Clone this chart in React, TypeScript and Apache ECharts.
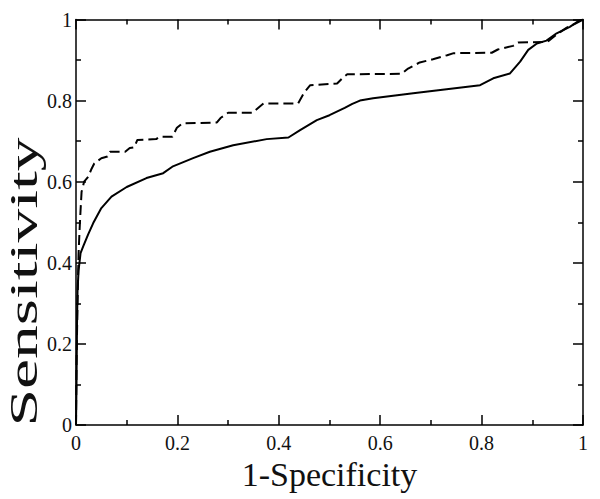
import React, { useEffect, useRef } from "react";
import * as echarts from "echarts";

const solidFpr = [0, 0.001, 0.002, 0.003, 0.005, 0.009, 0.014, 0.024, 0.034, 0.05, 0.07, 0.1, 0.139, 0.172, 0.19, 0.231, 0.264, 0.31, 0.376, 0.419, 0.442, 0.475, 0.5, 0.53, 0.545, 0.56, 0.586, 0.665, 0.731, 0.797, 0.823, 0.856, 0.876, 0.892, 0.909, 0.928, 0.948, 0.974, 0.991, 1];
const solidTpr = [0, 0.1, 0.25, 0.33, 0.38, 0.424, 0.44, 0.47, 0.498, 0.535, 0.563, 0.587, 0.609, 0.621, 0.637, 0.658, 0.674, 0.69, 0.705, 0.709, 0.727, 0.752, 0.764, 0.782, 0.792, 0.8, 0.806, 0.818, 0.828, 0.838, 0.855, 0.867, 0.896, 0.925, 0.941, 0.948, 0.966, 0.982, 0.996, 1];

const dashedFpr = [0, 0.001, 0.003, 0.005, 0.007, 0.009, 0.011, 0.016, 0.024, 0.03, 0.036, 0.05, 0.062, 0.067, 0.097, 0.106, 0.115, 0.121, 0.158, 0.165, 0.19, 0.199, 0.21, 0.278, 0.285, 0.3, 0.348, 0.362, 0.37, 0.438, 0.45, 0.462, 0.515, 0.527, 0.535, 0.642, 0.655, 0.678, 0.704, 0.732, 0.745, 0.82, 0.832, 0.862, 0.872, 0.93, 0.948, 0.968, 0.985, 1];
const dashedTpr = [0, 0.15, 0.3, 0.42, 0.48, 0.53, 0.575, 0.6, 0.612, 0.63, 0.645, 0.658, 0.662, 0.674, 0.674, 0.683, 0.685, 0.703, 0.705, 0.711, 0.711, 0.733, 0.744, 0.746, 0.757, 0.77, 0.77, 0.785, 0.793, 0.793, 0.82, 0.838, 0.842, 0.857, 0.865, 0.866, 0.879, 0.894, 0.902, 0.912, 0.917, 0.918, 0.926, 0.935, 0.943, 0.945, 0.963, 0.98, 0.99, 1];

const xTitle = "1-Specificity";
const yTitle = "Sensitivity";

const FONT = "Liberation Serif";
const INK = "#111";

function pairs(xs: number[], ys: number[]) {
  return xs.map((x, i) => [x, ys[i]]);
}

function fmt(v: number) {
  return String(Math.round(v * 10) / 10);
}

export default function App() {
  const ref = useRef<HTMLDivElement>(null);
  useEffect(() => {
    if (!ref.current) return;
    const chart = echarts.init(ref.current, null, { renderer: "svg" });
    const lineStyle = { color: "#000", width: 1.5 };
    const baseAxis = (pos: string, showLabel: boolean, isX: boolean) => ({
      type: "value",
      min: 0,
      max: 1,
      interval: 0.2,
      position: pos,
      axisLine: { show: true, onZero: false, lineStyle },
      axisTick: { show: true, inside: true, length: 10, lineStyle },
      minorTick: { show: true, splitNumber: 2, length: 5, lineStyle },
      splitLine: { show: false },
      axisLabel: {
        show: showLabel,
        fontFamily: FONT,
        fontSize: 20,
        color: INK,
        margin: isX ? 8 : 4,
        formatter: fmt,
      },
    });
    chart.setOption({
      animation: false,
      backgroundColor: "#fff",
      textStyle: { fontFamily: FONT },
      grid: { left: 76, right: 17, top: 19.5, bottom: 74 },
      xAxis: [
        {
          ...baseAxis("bottom", true, true),
          name: xTitle,
          nameLocation: "middle",
          nameGap: 20,
          nameTextStyle: { fontFamily: FONT, fontSize: 34, color: INK },
        },
        baseAxis("top", false, true),
      ],
      yAxis: [baseAxis("left", true, false), baseAxis("right", false, false)],
      graphic: [
        {
          type: "text",
          x: 23.5,
          y: 282,
          rotation: Math.PI / 2,
          scaleX: 1.69,
          scaleY: 1,
          style: {
            text: yTitle,
            font: `40px ${FONT}`,
            fill: INK,
            align: "center",
            verticalAlign: "middle",
          },
        },
      ],
      series: [
        {
          type: "line",
          data: pairs(solidFpr, solidTpr),
          showSymbol: false,
          lineStyle: { color: "#000", width: 2 },
          z: 3,
        },
        {
          type: "line",
          data: pairs(dashedFpr, dashedTpr),
          showSymbol: false,
          lineStyle: { color: "#000", width: 2, type: [10, 5] },
          z: 3,
        },
      ],
    });
    return () => chart.dispose();
  }, []);
  return (
    <div
      ref={ref}
      style={{ position: "fixed", left: 0, top: 0, width: 600, height: 499, background: "#fff" }}
    />
  );
}
